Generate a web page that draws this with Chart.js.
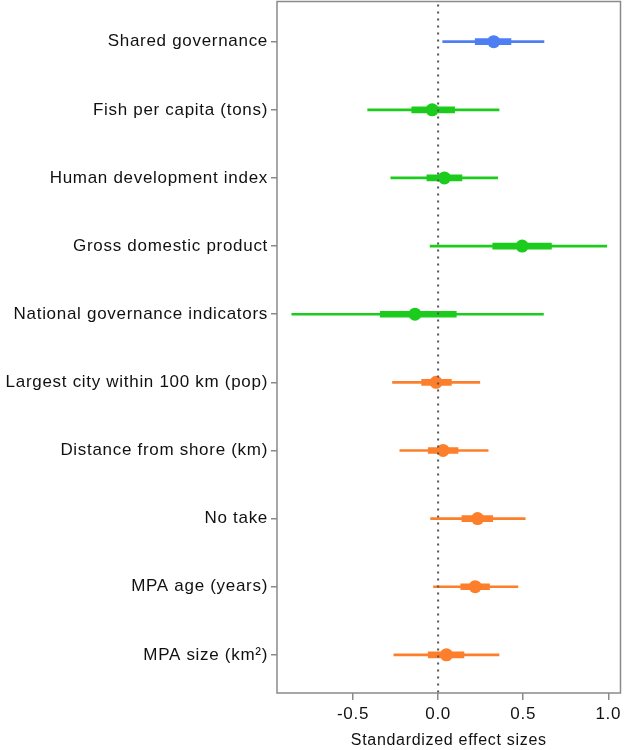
<!DOCTYPE html>
<html>
<head>
<meta charset="utf-8">
<script src="https://cdn.jsdelivr.net/npm/chart.js@4"></script>
<style>
  html, body { margin: 0; padding: 0; background: #fff; overflow: hidden; }
  #wrap { width: 627px; height: 755px; margin-top: -5px; }
</style>
</head>
<body>
<div id="wrap"><canvas id="grafico"></canvas></div>
<script>
// datos
const categorias = [
  "Shared governance",
  "Fish per capita (tons)",
  "Human development index",
  "Gross domestic product",
  "National governance indicators",
  "Largest city within 100 km (pop)",
  "Distance from shore (km)",
  "No take",
  "MPA age (years)",
  "MPA size (km\u00B2)"
];
const grupos = ["gov", "nat", "nat", "nat", "nat", "mpa", "mpa", "mpa", "mpa", "mpa"];
const estimacion = [0.327, -0.035, 0.037, 0.494, -0.136, -0.012, 0.029, 0.232, 0.218, 0.049];
const inf95 = [0.027, -0.414, -0.278, -0.047, -0.860, -0.268, -0.225, -0.044, -0.027, -0.260];
const sup95 = [0.622, 0.358, 0.350, 0.991, 0.619, 0.245, 0.294, 0.512, 0.469, 0.358];
const inf50 = [0.218, -0.155, -0.066, 0.321, -0.340, -0.097, -0.058, 0.140, 0.133, -0.058];
const sup50 = [0.428, 0.097, 0.140, 0.666, 0.107, 0.078, 0.117, 0.321, 0.302, 0.152];
const ticksX = [-0.5, 0, 0.5, 1.0];

const colores = { gov: "#4d7ff3", nat: "#1ccc1c", mpa: "#fd7f2b" };
const colorFila = grupos.map(g => colores[g]);

const FUENTE = "'Liberation Sans', Arial, sans-serif";

// linea punteada en cero + marco
const marco = {
  id: "marco",
  beforeDraw(chart) {
    chart.ctx.letterSpacing = "0.7px";
  },
  afterDatasetsDraw(chart) {
    const { ctx, chartArea, scales } = chart;
    const x0 = scales.x.getPixelForValue(0);
    ctx.save();
    ctx.strokeStyle = "#555";
    ctx.lineWidth = 2;
    ctx.setLineDash([2, 5]);
    ctx.beginPath();
    ctx.moveTo(x0, chartArea.top + 3);
    ctx.lineTo(x0, chartArea.bottom);
    ctx.stroke();
    ctx.setLineDash([]);
    ctx.strokeStyle = "#8a8a8a";
    ctx.lineWidth = 1.5;
    ctx.strokeRect(chartArea.left, chartArea.top, chartArea.right - chartArea.left, chartArea.bottom - chartArea.top);
    ctx.restore();
  }
};

new Chart(document.getElementById("grafico"), {
  type: "bar",
  data: {
    datasets: [
      {
        type: "scatter",
        data: estimacion.map((v, i) => ({ x: v, y: i + 1 })),
        backgroundColor: colorFila,
        borderColor: colorFila,
        pointRadius: 6.5,
        pointBorderWidth: 0,
        order: 0
      },
      {
        data: categorias.map((c, i) => ({ x: [inf50[i], sup50[i]], y: i + 1 })),
        backgroundColor: colorFila,
        barThickness: 6,
        grouped: false,
        order: 1
      },
      {
        data: categorias.map((c, i) => ({ x: [inf95[i], sup95[i]], y: i + 1 })),
        backgroundColor: colorFila,
        barThickness: 2,
        grouped: false,
        order: 2
      }
    ]
  },
  options: {
    indexAxis: "y",
    responsive: true,
    maintainAspectRatio: false,
    animation: false,
    layout: { padding: { top: 2, right: 4, left: 0, bottom: 0 } },
    plugins: { legend: { display: false }, tooltip: { enabled: false } },
    scales: {
      x: {
        type: "linear",
        min: -0.947,
        max: 1.072,
        afterBuildTicks: s => { s.ticks = ticksX.map(v => ({ value: v })); },
        afterFit: s => { s.height = 57; },
        border: { display: false },
        grid: { drawOnChartArea: false, tickLength: 7, color: "#8a8a8a", lineWidth: 1.5 },
        ticks: {
          color: "#111",
          padding: 4,
          font: { family: FUENTE, size: 17 },
          callback: v => v.toFixed(1)
        },
        title: {
          display: true,
          text: "Standardized effect sizes",
          color: "#111",
          font: { family: FUENTE, size: 16 },
          padding: { top: 2, bottom: 0 }
        }
      },
      y: {
        type: "linear",
        reverse: true,
        offset: false,
        min: 0.41,
        max: 10.56,
        afterBuildTicks: s => { s.ticks = categorias.map((c, i) => ({ value: i + 1 })); },
        afterFit: s => { s.width = 277; s.paddingTop = 0; s.paddingBottom = 0; },
        border: { display: false },
        grid: { offset: false, drawOnChartArea: false, tickLength: 6, color: "#8a8a8a", lineWidth: 1.5 },
        ticks: {
          color: "#111",
          padding: 3,
          font: { family: FUENTE, size: 17 },
          callback: v => categorias[Math.round(v) - 1]
        }
      }
    }
  },
  plugins: [marco]
});
</script>
</body>
</html>
